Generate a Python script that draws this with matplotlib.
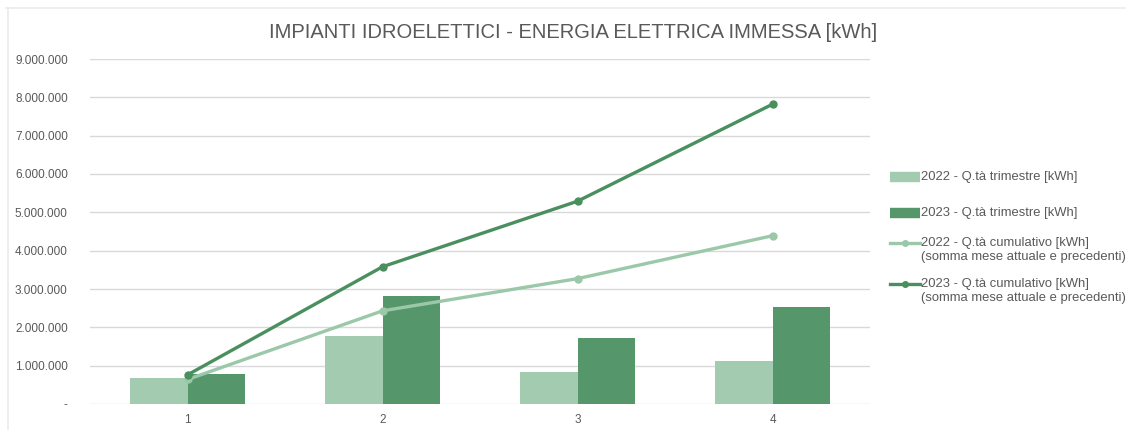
import numpy as np
import matplotlib.pyplot as plt
from matplotlib.lines import Line2D
from matplotlib.ticker import FuncFormatter

plt.rcParams['font.family'] = ['Liberation Sans', 'DejaVu Sans']

# Quarterly energy fed into the grid [kWh]
quarters = ["1", "2", "3", "4"]
q_2022 = [670000, 1770000, 840000, 1130000]
q_2023 = [780000, 2830000, 1710000, 2530000]
# Cumulative totals [kWh]
cum_2022 = [640000, 2430000, 3270000, 4390000]
cum_2023 = [760000, 3580000, 5290000, 7820000]

labels = [
    "2022 - Q.tà trimestre [kWh]",
    "2023 - Q.tà trimestre [kWh]",
    "2022 - Q.tà cumulativo [kWh]\n(somma mese attuale e precedenti)",
    "2023 - Q.tà cumulativo [kWh]\n(somma mese attuale e precedenti)",
]

light = '#A3CBB0'
dark = '#55976A'
light_line = '#9BC8A8'
dark_line = '#4A8F5E'
text_col = '#595959'

W, H = 1128, 430
fig = plt.figure(figsize=(W / 100, H / 100), dpi=100)
ax = fig.add_axes([90 / W, 26 / H, 780 / W, 345 / H])


def fx(px):
    return px / W


def fy(py):
    return 1 - py / H


x = np.arange(1, len(quarters) + 1)
w = 0.295
ax.bar(x - w / 2, q_2022, width=w, color=light, zorder=2)
ax.bar(x + w / 2, q_2023, width=w, color=dark, zorder=2)
ax.plot(x, cum_2022, color=light_line, lw=2.4, marker='o', ms=5, zorder=3)
ax.plot(x, cum_2023, color=dark_line, lw=2.4, marker='o', ms=5, zorder=4)

ax.set_xlim(0.5, 4.5)
ax.set_ylim(0, 9000000)
ax.set_yticks(np.arange(0, 9000001, 1000000))
ax.set_xticks(x)
ax.set_xticklabels(quarters)


def fmt(v, pos):
    if v == 0:
        return "-"
    return f"{int(v):,}".replace(",", ".")


ax.yaxis.set_major_formatter(FuncFormatter(fmt))
ax.grid(axis='y', color='#D9D9D9', lw=1, zorder=0)
for s in ax.spines.values():
    s.set_visible(False)
ax.tick_params(length=0, labelsize=8.5, colors=text_col, pad=16)
ax.tick_params(axis='x', pad=7)

fig.text(0.508, 0.925, "IMPIANTI IDROELETTICI - ENERGIA ELETTRICA IMMESSA [kWh]",
         ha='center', va='center', fontsize=14.5, color=text_col)

# legend built by hand: fixed row positions, handle aligned with first text line
handles = [
    dict(color=light, lw=7.5, solid_capstyle='butt'),
    dict(color=dark, lw=7.5, solid_capstyle='butt'),
    dict(color=light_line, lw=2.4, marker='o', ms=4, markevery=[1]),
    dict(color=dark_line, lw=2.4, marker='o', ms=4, markevery=[1]),
]
rows_y = [177, 213, 243, 284]
for style, lab, ry in zip(handles, labels, rows_y):
    fig.add_artist(Line2D([fx(890), fx(905), fx(920)], [fy(ry)] * 3, **style))
    for k, line in enumerate(lab.split("\n")):
        fig.text(fx(921), fy(ry + 14 * k), line, ha='left', va='center',
                 fontsize=9.4, color=text_col)

# light frame around the chart area
fig.add_artist(Line2D([fx(6), fx(1125)], [fy(7.5)] * 2, color='#EBEBEB', lw=1.2))
fig.add_artist(Line2D([fx(7.5)] * 2, [0, fy(7.5)], color='#EBEBEB', lw=1.2))

fig.savefig("out.png", dpi=100, facecolor='white')
